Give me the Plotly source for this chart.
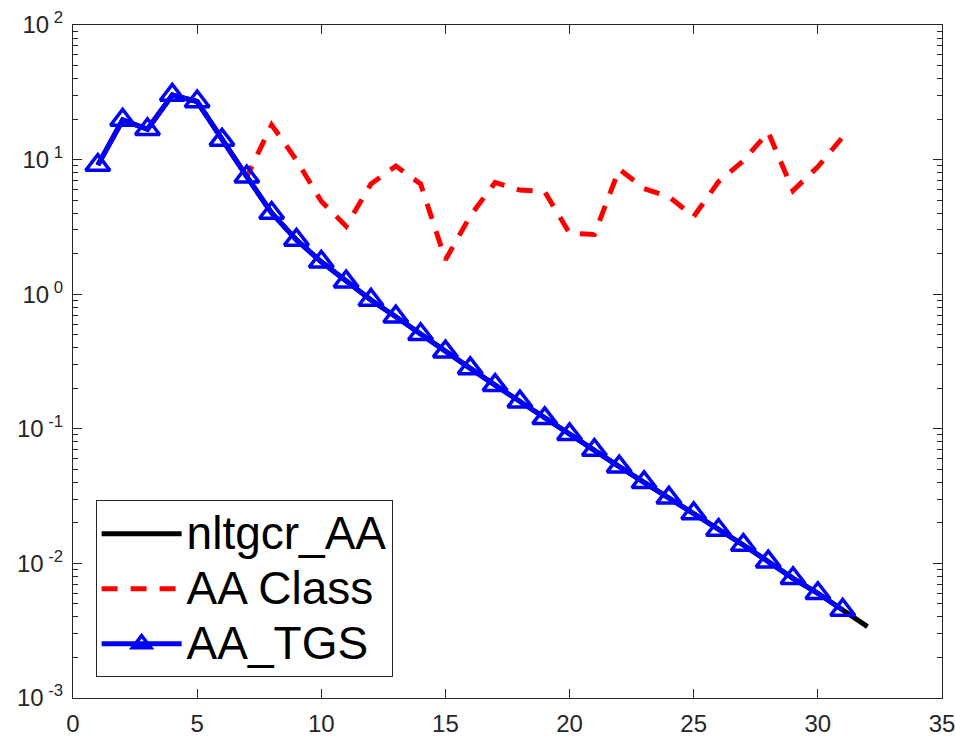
import plotly.graph_objects as go

# Iteration index for each method
iters_nltgcr = list(range(1, 33))
iters_tgs = list(range(1, 32))
iters_class = list(range(1, 32))

# Residual norms per iteration
res_nltgcr = [9.1, 19.7, 16.8, 30.2, 27.0, 14.0, 7.46, 4.01, 2.53, 1.74,
              1.24, 0.906, 0.68, 0.504, 0.374, 0.281, 0.211, 0.159, 0.1196, 0.091,
              0.0695, 0.0523, 0.040, 0.0307, 0.0235, 0.0177, 0.0137, 0.0103, 0.00775, 0.0060,
              0.00451, 0.00339]
res_tgs = res_nltgcr[:31]
res_class = [9.1, 19.7, 16.8, 30.2, 27.0, 14.0, 7.46, 18.1, 9.9, 4.9,
             3.2, 6.6, 8.96, 6.6, 1.8, 3.81, 6.77, 5.94, 5.78, 2.83,
             2.78, 8.5, 6.1, 5.3, 3.77, 6.86, 9.8, 16.0, 5.88, 8.85,
             14.7]

# Axis ticks
y_exponents = [-3, -2, -1, 0, 1, 2]
y_tickvals = [10.0 ** e for e in y_exponents]
y_minor_tickvals = [m * 10.0 ** e for e in y_exponents[:-1] for m in range(2, 10)]
y_ticktext = ["10<sup> %d</sup>" % e for e in y_exponents]
x_tickvals = [0, 5, 10, 15, 20, 25, 30, 35]


def legend_label(s):
    return "<span style='font-size:46px'>%s</span>" % s


axis_color = "#262626"

fig = go.Figure()
fig.add_trace(go.Scatter(
    x=iters_nltgcr, y=res_nltgcr, mode="lines", name=legend_label("nltgcr_AA"),
    line=dict(color="black", width=5),
))
fig.add_trace(go.Scatter(
    x=iters_class, y=res_class, mode="lines", name=legend_label("AA Class"),
    line=dict(color="rgb(255,0,0)", width=5, dash="16px,13px"),
))
fig.add_trace(go.Scatter(
    x=iters_tgs, y=res_tgs, mode="lines+markers", name=legend_label("AA_TGS"),
    line=dict(color="rgb(0,0,255)", width=5),
    marker=dict(symbol="triangle-up-open", size=21, color="rgb(0,0,255)",
                line=dict(width=3.5, color="rgb(0,0,255)")),
))

fig.update_layout(
    width=955, height=738,
    margin=dict(l=73, r=13, t=25, b=40),
    paper_bgcolor="white", plot_bgcolor="white",
    font=dict(family="Liberation Sans, Arial, sans-serif", color=axis_color),
    showlegend=True,
    legend=dict(
        x=0.026, y=0.031, xanchor="left", yanchor="bottom",
        bgcolor="white", bordercolor=axis_color, borderwidth=1,
        font=dict(size=40, color="black"),
        itemwidth=80, tracegroupgap=0,
    ),
)

fig.update_xaxes(
    range=[0, 35], tickvals=x_tickvals,
    showgrid=False, zeroline=False, automargin=False,
    showline=True, linecolor=axis_color, linewidth=1, mirror="allticks",
    ticks="inside", ticklen=9, tickcolor=axis_color,
    tickfont=dict(size=24, color=axis_color),
    ticklabelstandoff=4, ticklabeloverflow="allow",
)
fig.update_yaxes(
    type="log", range=[-3, 2],
    tickvals=y_tickvals, ticktext=y_ticktext,
    showgrid=False, zeroline=False, automargin=False,
    showline=True, linecolor=axis_color, linewidth=1, mirror="allticks",
    ticks="inside", ticklen=9, tickcolor=axis_color,
    tickfont=dict(size=24, color=axis_color),
    ticklabelstandoff=4, ticklabeloverflow="allow",
    minor=dict(ticks="inside", ticklen=5, tickcolor=axis_color, showgrid=False,
               tickvals=y_minor_tickvals),
)

fig.write_html("out.html")
